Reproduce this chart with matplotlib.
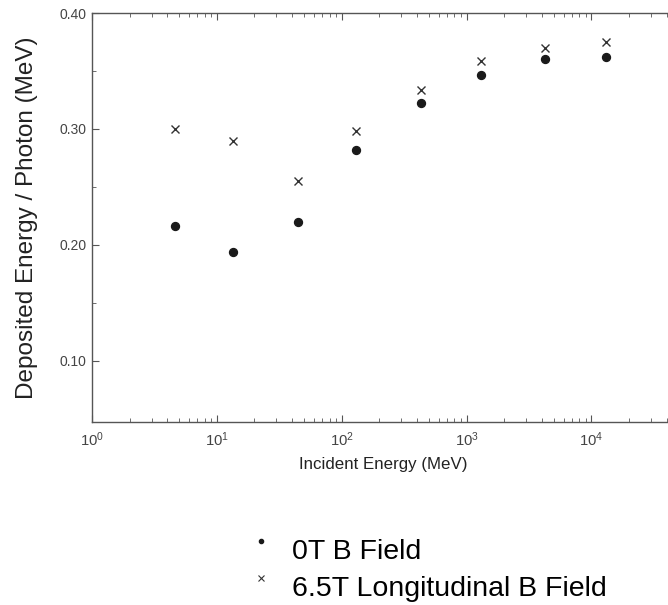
import matplotlib
matplotlib.use("Agg")
import numpy as np
import matplotlib.pyplot as plt
from matplotlib.lines import Line2D
from matplotlib.legend_handler import HandlerLine2D
from matplotlib.ticker import FormatStrFormatter, FixedLocator, LogLocator

plt.rcParams['font.family'] = ['Liberation Sans', 'DejaVu Sans']
plt.rcParams['mathtext.default'] = 'regular'

# data
energy = [4.6, 13.5, 44.7, 131, 434, 1300, 4270, 13100]
dep_0T = [0.216, 0.194, 0.220, 0.2815, 0.322, 0.3466, 0.360, 0.3618]
dep_65T = [0.300, 0.2897, 0.2552, 0.298, 0.334, 0.3586, 0.3696, 0.3747]
labels = ['0T B Field', '6.5T Longitudinal B Field']


class RaisedHandler(HandlerLine2D):
    # legend markers sit a bit above the middle of the text
    def create_artists(self, legend, orig_handle, xdescent, ydescent,
                       width, height, fontsize, trans):
        arts = super().create_artists(legend, orig_handle, xdescent, ydescent,
                                      width, height, fontsize, trans)
        for a in arts:
            a.set_ydata(np.asarray(a.get_ydata()) + 6)
        return arts


fig = plt.figure(figsize=(6.68, 6.05), dpi=100)
# axes run just past the right edge of the figure, like the cropped original
ax = fig.add_axes([0.1377, 0.303, 0.871, 0.6755])

ax.plot(energy, dep_0T, linestyle='none', marker='o', markersize=5.7,
        color='#1a1a1a')
ax.plot(energy, dep_65T, linestyle='none', marker='x', markersize=6,
        markeredgewidth=1.0, color='#333333')

ax.set_xscale('log')
ax.set_xlim(1, 10 ** 4.66)
ax.set_ylim(0.0475, 0.40)

ax.xaxis.set_major_locator(FixedLocator([1, 10, 100, 1000, 10000]))
ax.xaxis.set_minor_locator(LogLocator(base=10, subs=range(2, 10), numticks=20))
ax.yaxis.set_major_locator(FixedLocator([0.10, 0.20, 0.30, 0.40]))
ax.yaxis.set_minor_locator(FixedLocator([0.15, 0.25, 0.35]))
ax.yaxis.set_major_formatter(FormatStrFormatter('%.2f'))

for s in ax.spines.values():
    s.set_color('#555555')
    s.set_linewidth(1.0)
ax.spines['right'].set_visible(False)

ax.tick_params(axis='both', which='both', direction='in', color='#555555',
               labelcolor='#444444', labelsize=10)
ax.tick_params(axis='x', which='major', length=5, top=True, pad=6,
               labelsize=10.7)
ax.tick_params(axis='x', which='minor', length=3, top=True)
ax.tick_params(axis='y', which='major', length=5, pad=4)
ax.tick_params(axis='y', which='minor', length=3)

ax.set_xlabel('Incident Energy (MeV)', fontsize=12.2, color='#222222',
              labelpad=6)
ax.set_ylabel('Deposited Energy / Photon (MeV)', fontsize=17.5,
              color='#222222', labelpad=15)

handles = [Line2D([], [], linestyle='none', marker='o', markersize=3,
                  color='#1a1a1a'),
           Line2D([], [], linestyle='none', marker='x', markersize=4,
                  markeredgewidth=0.8, color='#333333')]
fig.legend(handles, labels, loc='upper left', bbox_to_anchor=(0.3735, 0.109),
           frameon=False, fontsize=20.5, handlelength=0.8, handletextpad=0.7,
           labelspacing=0.40, borderpad=0, borderaxespad=0,
           handler_map={Line2D: RaisedHandler()})

fig.savefig('out.png', dpi=100)
